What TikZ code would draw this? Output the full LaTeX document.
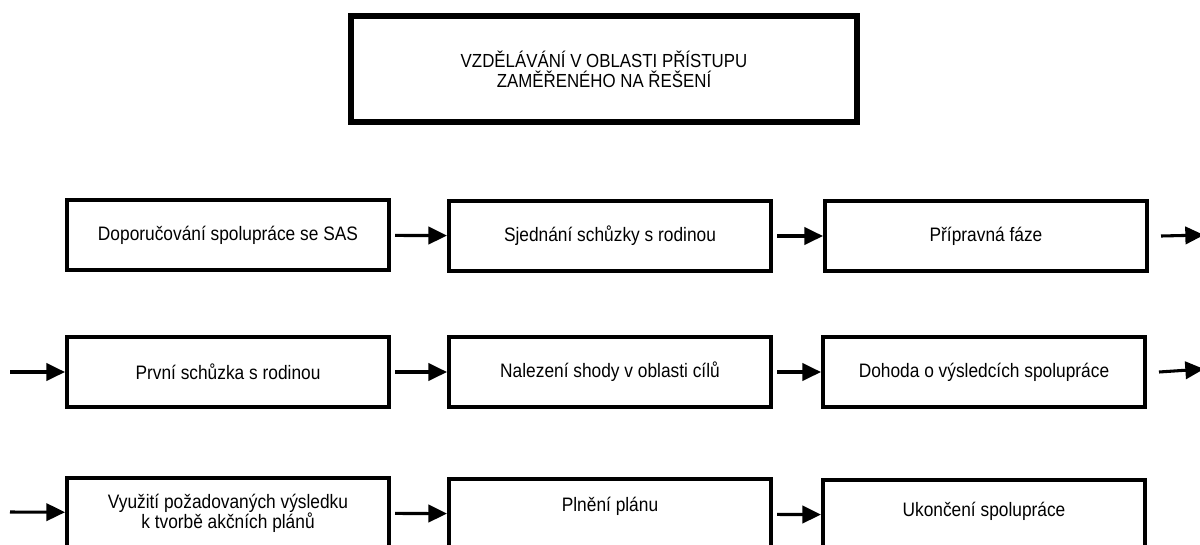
\documentclass[tikz,border=0pt]{standalone}
\usepackage{fontspec}
\setmainfont[FakeStretch=0.89]{Liberation Sans}
\usetikzlibrary{arrows.meta,positioning,calc}

\tikzset{
  krok/.style={draw, line width=3pt, minimum width=241.5pt, minimum height=52.5pt,
    align=center, inner sep=0pt, font=\fontsize{14.6}{15}\selectfont},
  sipka/.style={line width=2.3pt, -{Triangle[length=14pt,width=13pt]}},
}

\begin{document}
\begin{tikzpicture}[x=0.75pt,y=-0.75pt]
            \useasboundingbox (0,0) rectangle (1200,544);
            \clip (0,0) rectangle (1200,544);
            \node[krok, line width=4.5pt, minimum width=379.5pt, minimum height=79.5pt,
                font=\fontsize{14.2}{15}\selectfont] (nadpis) at (604,69)
                {VZDĚLÁVÁNÍ V OBLASTI PŘÍSTUPU\\ZAMĚŘENÉHO NA ŘEŠENÍ};
            % prvni radek
            \node[krok] (a1) at (228,235) {Doporučování spolupráce se SAS};
            \node[krok] (a2) at (610,236) {Sjednání schůzky s rodinou};
            \node[krok] (a3) at (986,236) {Přípravná fáze};
            % druhy radek
            \node[krok] (b1) at (228,372) {První schůzka s rodinou};
            \node[krok] (b2) at (610,372) {Nalezení shody v oblasti cílů};
            \node[krok] (b3) at (984,372) {Dohoda o výsledcích spolupráce};
            % treti radek
            \node[krok] (c1) at (228,513) {Využití požadovaných výsledku\\k tvorbě akčních plánů};
            \node[krok, text depth=14pt] (c2) at (610,514) {Plnění plánu};
            \node[krok, text depth=9pt] (c3) at (984,515) {Ukončení spolupráce};
            \coordinate (a4) at (1204,235);
            \coordinate (b4) at (1204,369);
            \coordinate (b0) at (10,372);
            \coordinate (c0) at (10,512);
            \foreach \r in {a,b,c}{
            \draw[sipka, shorten <=3pt] (\r1) -- (\r2);
            \draw[sipka, shorten <=3pt] (\r2) -- (\r3);
            }
            \draw[sipka] ($ (a3.east)+(12,0) $) -- (a4);
            \draw[sipka] ($ (b3.east)+(12,0) $) -- (b4);
            \draw[sipka] (b0) -- (b1);
            \draw[sipka] (c0) -- (c1);
        \end{tikzpicture}
\end{document}
